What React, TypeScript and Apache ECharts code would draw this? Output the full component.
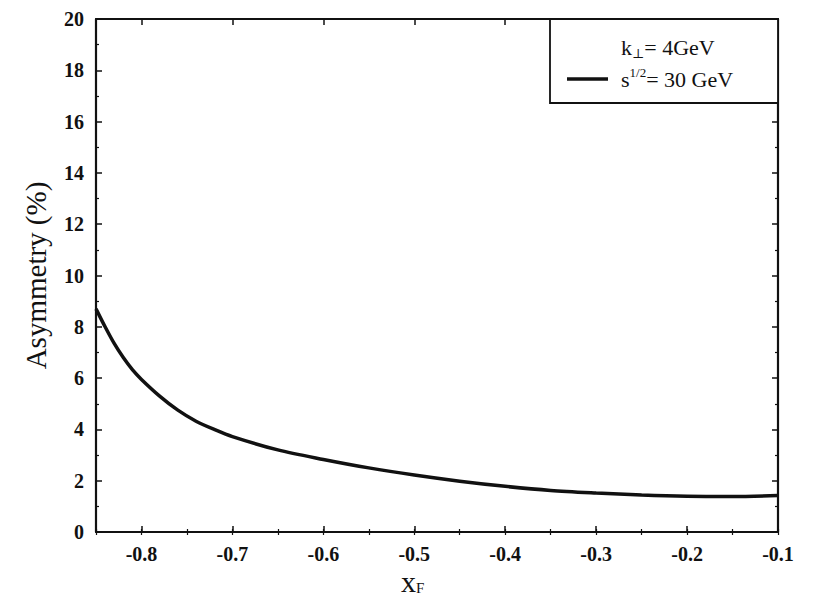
import React, { useEffect, useRef } from "react";
import * as echarts from "echarts";

const xValues = [-0.85, -0.84, -0.83, -0.82, -0.81, -0.8, -0.78, -0.76, -0.74, -0.72, -0.7, -0.65, -0.6, -0.55, -0.5, -0.45, -0.4, -0.35, -0.3, -0.25, -0.2, -0.15, -0.1];
const asymmetry = [8.7, 8.0, 7.35, 6.8, 6.33, 5.95, 5.3, 4.75, 4.32, 4.0, 3.72, 3.2, 2.83, 2.5, 2.22, 1.98, 1.78, 1.62, 1.52, 1.44, 1.39, 1.38, 1.42];
const xMajorTicks = [-0.8, -0.7, -0.6, -0.5, -0.4, -0.3, -0.2, -0.1];

const FONT = "'Liberation Serif', 'DejaVu Serif', serif";

export default function App() {
  const ref = useRef<HTMLDivElement>(null);
  useEffect(() => {
    if (!ref.current) return;
    const chart = echarts.init(ref.current, null, { renderer: "svg" });
    const baseX = {
      type: "value",
      min: -0.85,
      max: -0.1,
      splitLine: { show: false },
      axisLine: { show: false },
      axisLabel: { show: false },
    };
    const majorX = (pos: string, labels: boolean) => ({
      ...baseX,
      position: pos,
      axisLine: { show: true, onZero: false, lineStyle: { color: "#111", width: 2.2 } },
      axisTick: { show: true, inside: true, length: 6, customValues: xMajorTicks, lineStyle: { color: "#111", width: 1.5 } },
      axisLabel: {
        show: labels,
        customValues: xMajorTicks,
        formatter: (v: number) => v.toFixed(1),
        color: "#111",
        fontFamily: FONT,
        fontWeight: "bold",
        fontSize: 20,
        margin: 12,
      },
    });
    const minorX = (pos: string) => ({
      ...baseX,
      position: pos,
      interval: 0.05,
      axisTick: { show: true, inside: true, length: 3, lineStyle: { color: "#111", width: 1.2 } },
    });
    const yAx = (pos: string, labels: boolean) => ({
      type: "value",
      position: pos,
      min: 0,
      max: 20,
      interval: 2,
      splitLine: { show: false },
      axisLine: { show: true, onZero: false, lineStyle: { color: "#111", width: 2.2 } },
      axisTick: { show: true, inside: true, length: 6, lineStyle: { color: "#111", width: 1.5 } },
      minorTick: { show: true, splitNumber: 2, length: 3, lineStyle: { color: "#111", width: 1.2 } },
      axisLabel: {
        show: labels,
        color: "#111",
        fontFamily: FONT,
        fontWeight: "bold",
        fontSize: 20,
        margin: 12,
      },
      name: labels ? "Asymmetry (%)" : "",
      nameLocation: "middle",
      nameGap: 46,
      nameTextStyle: { color: "#111", fontFamily: FONT, fontSize: 29 },
    });
    chart.setOption({
      animation: false,
      backgroundColor: "#fff",
      grid: { left: 96, right: 52, top: 19, bottom: 69, containLabel: false },
      xAxis: [majorX("bottom", true), minorX("bottom"), majorX("top", false), minorX("top")],
      yAxis: [yAx("left", true), yAx("right", false)],
      series: [
        {
          type: "line",
          xAxisIndex: 0,
          yAxisIndex: 0,
          data: xValues.map((x, i) => [x, asymmetry[i]]),
          smooth: 0.3,
          showSymbol: false,
          lineStyle: { color: "#111", width: 3.5 },
        },
      ],
      graphic: [
        {
          type: "rect",
          shape: { x: 550, y: 19, width: 228, height: 84 },
          style: { fill: "#fff", stroke: "#111", lineWidth: 1.8 },
          z: 10,
        },
        {
          type: "line",
          shape: { x1: 567, y1: 79, x2: 608, y2: 79 },
          style: { stroke: "#111", lineWidth: 3.5 },
          z: 11,
        },
        {
          type: "text",
          x: 621,
          y: 47,
          z: 11,
          style: {
            text: "{a|k}{sub|⊥}{a|= 4GeV}",
            verticalAlign: "middle",
            rich: {
              a: { fontFamily: FONT, fontSize: 22, fill: "#111" },
              sub: { fontFamily: FONT, fontSize: 13, fill: "#111", padding: [12, 0, 0, 0] },
            },
          },
        },
        {
          type: "text",
          x: 621,
          y: 79,
          z: 11,
          style: {
            text: "{a|s}{sup|1/2}{a|= 30 GeV}",
            verticalAlign: "middle",
            rich: {
              a: { fontFamily: FONT, fontSize: 22, fill: "#111" },
              sup: { fontFamily: FONT, fontSize: 13, fill: "#111", padding: [0, 0, 14, 0] },
            },
          },
        },
        {
          type: "text",
          x: 401,
          y: 581,
          style: {
            text: "{a|x}{sub|F}",
            verticalAlign: "middle",
            rich: {
              a: { fontFamily: FONT, fontSize: 30, fill: "#111" },
              sub: { fontFamily: FONT, fontSize: 15, fill: "#111", padding: [14, 0, 0, 0] },
            },
          },
        },
      ],
    });
    return () => chart.dispose();
  }, []);
  return (
    <div
      ref={ref}
      style={{ position: "absolute", left: 0, top: 0, width: 830, height: 601 }}
    />
  );
}
